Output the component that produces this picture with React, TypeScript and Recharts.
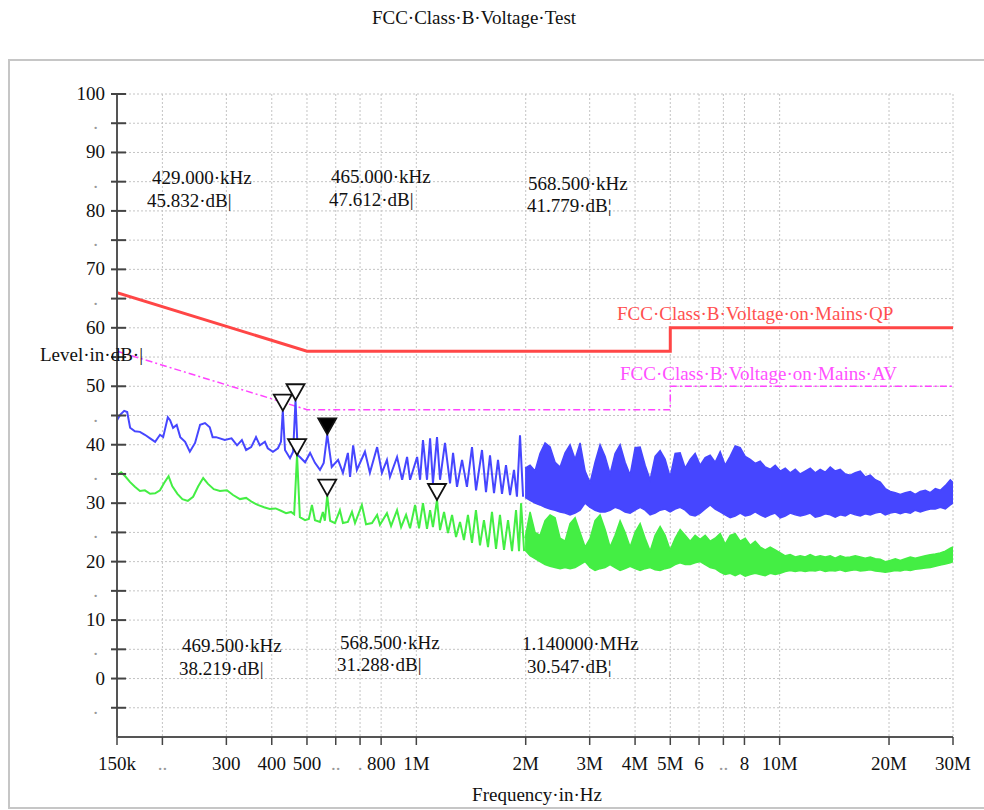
import React from "react";
import {
  ComposedChart,
  Line,
  Area,
  XAxis,
  YAxis,
  CartesianGrid,
  ReferenceDot,
} from "recharts";

const serif = "'Liberation Serif', 'Times New Roman', serif";

const xTicks = [
  150000, 200000, 300000, 400000, 500000, 600000, 700000, 800000, 1000000,
  2000000, 3000000, 4000000, 5000000, 6000000, 7000000, 8000000, 10000000,
  20000000, 30000000,
];
const xTickLabels = [
  "150k", "..", "300", "400", "500", "..", ".", "800", "1M", "2M", "3M", "4M",
  "5M", "6", "..", "8", "10M", "20M", "30M",
];
const yTicks = [
  -10, -5, 0, 5, 10, 15, 20, 25, 30, 35, 40, 45, 50, 55, 60, 65, 70, 75, 80,
  85, 90, 95, 100,
];

// limit lines (Hz, dB)
const limitFreq = [150000, 500000, 5000000, 5000000, 30000000];
const qpLimit = [66, 56, 56, 60, 60];
const avLimit = [56, 46, 46, 50, 50];

// peak trace, 150 kHz .. 2 MHz (kHz, dB)
const blueKHz = [
  150, 153, 157, 160, 163, 168, 173.5, 179, 185, 191, 197, 201, 207, 210, 214,
  219, 224, 231, 238, 246, 254, 262, 270, 275, 281, 297, 310, 321, 331, 340,
  351, 362, 371, 383, 390, 403, 416, 424, 429, 435, 449, 458, 465, 472, 478,
  494, 510, 526, 543, 556, 568.5, 585, 609, 628, 648, 657, 670, 686, 722, 745,
  780, 804, 830, 846, 885, 914, 943, 961, 1005, 1024, 1043, 1070, 1091, 1111,
  1140, 1162, 1199, 1238, 1262, 1294, 1336, 1378, 1423, 1460, 1516, 1555,
  1595, 1636, 1678, 1721, 1765, 1811, 1857, 1892, 1929, 1967,
];
const blueLevel = [
  44.2, 45.1, 45.8, 45.6, 42.9, 42.3, 42.2, 41.7, 41.1, 40.5, 41.7, 41.3, 44.7,
  44.2, 42.9, 43.4, 41.3, 40.5, 38.8, 40.3, 43.4, 43.7, 43.0, 41.3, 41.3, 40.8,
  41.1, 39.9, 40.8, 39.1, 39.6, 41.3, 39.9, 40.5, 39.4, 38.8, 39.4, 40.5,
  45.832, 39.1, 37.7, 38.8, 47.612, 38.2, 37.9, 37.0, 38.6, 36.9, 35.7, 36.9,
  41.779, 36.2, 37.4, 35.2, 38.6, 34.5, 39.9, 35.7, 38.8, 35.2, 39.6, 35.2,
  37.4, 34.5, 37.9, 34.0, 37.9, 34.0, 37.9, 34.0, 40.8, 34.0, 41.1, 33.4, 41.3,
  34.0, 40.3, 33.4, 38.6, 32.8, 37.4, 32.8, 39.6, 32.2, 39.1, 31.9, 38.2, 31.7,
  37.4, 31.6, 36.5, 31.4, 35.7, 31.1, 41.6, 31.1,
];

// average trace, 150 kHz .. 2 MHz (kHz, dB)
const greenKHz = [
  150, 154, 158, 163, 168, 173.5, 179, 185, 191, 197, 202, 208, 213, 220, 227,
  235, 243, 251, 259, 267, 277, 288, 301, 313, 327, 340, 353, 366, 381, 395,
  410, 424, 438, 452, 461, 469.5, 478, 494, 506, 516, 526, 543, 553, 560,
  568.5, 579, 597, 616, 628, 648, 665, 678, 708, 727, 755, 780, 794, 830, 852,
  885, 908, 937, 961, 992, 1017, 1043, 1070, 1091, 1111, 1140, 1162, 1192,
  1222, 1254, 1286, 1319, 1352, 1387, 1423, 1459, 1497, 1535, 1575, 1615,
  1657, 1699, 1743, 1788, 1834, 1881, 1917, 1942, 1980,
];
const greenLevel = [
  34.8, 35.3, 34.6, 33.6, 32.8, 32.1, 32.2, 31.6, 31.7, 32.2, 33.4, 34.6, 32.9,
  31.6, 30.7, 30.4, 31.1, 32.9, 34.3, 33.3, 32.4, 32.1, 32.2, 31.4, 30.7, 30.9,
  30.2, 29.7, 29.3, 29.0, 29.1, 28.7, 28.3, 28.5, 28.1, 38.219, 27.6, 27.1,
  27.3, 29.7, 27.1, 26.8, 28.5, 27.0, 31.288, 27.0, 26.6, 28.8, 26.6, 26.8,
  28.5, 26.6, 29.7, 26.4, 26.6, 28.0, 26.3, 28.3, 26.1, 28.8, 25.9, 28.0, 25.7,
  29.7, 25.7, 30.0, 25.6, 28.8, 25.9, 30.547, 25.4, 28.5, 24.9, 28.0, 24.2,
  26.8, 23.7, 28.0, 23.2, 28.8, 22.8, 27.1, 22.5, 28.5, 22.2, 28.0, 22.0, 27.1,
  21.8, 28.8, 21.8, 30.0, 21.8,
];

// dense sweep 2 MHz .. 30 MHz, min / max per column (MHz, dB)
const bandMHz = [
  1.992, 2.056, 2.122, 2.19, 2.261, 2.334, 2.409, 2.487, 2.567, 2.649, 2.735,
  2.823, 2.914, 3.008, 3.104, 3.204, 3.308, 3.414, 3.524, 3.638, 3.755, 3.876,
  4.001, 4.13, 4.263, 4.4, 4.542, 4.688, 4.839, 4.995, 5.156, 5.322, 5.494,
  5.671, 5.853, 6.042, 6.237, 6.438, 6.645, 6.859, 7.08, 7.308, 7.544, 7.787,
  8.038, 8.297, 8.564, 8.84, 9.125, 9.419, 9.722, 10.04, 10.36, 10.69, 11.04,
  11.39, 11.76, 12.14, 12.53, 12.93, 13.35, 13.78, 14.22, 14.68, 15.16, 15.64,
  16.15, 16.67, 17.2, 17.76, 18.33, 18.92, 19.53, 20.16, 20.81, 21.48, 22.17,
  22.89, 23.62, 24.38, 25.17, 25.98, 26.82, 27.68, 28.57, 29.49, 30.0,
];
const blueHi = [
  36.0, 36.5, 35.5, 38.5, 40.3, 39.6, 37.0, 36.2, 38.6, 40.0, 37.5, 40.3, 35.5,
  33.5, 37.0, 40.0, 38.0, 35.0, 38.5, 40.0, 37.0, 34.8, 39.5, 39.6, 36.5, 34.0,
  38.0, 39.0, 37.5, 34.5, 38.5, 38.6, 36.0, 37.5, 38.5, 36.5, 37.8, 38.2, 37.0,
  38.8, 36.5, 38.0, 39.8, 39.5, 38.0, 37.5, 36.8, 37.2, 36.2, 35.8, 36.5, 35.5,
  36.0, 35.2, 35.8, 35.0, 35.5, 36.0, 35.2, 35.8, 35.3, 36.2, 35.5, 35.8, 35.0,
  34.8, 35.2, 35.5, 34.5, 34.8, 34.0, 33.6, 32.5, 32.0, 31.8, 31.5, 31.8, 32.0,
  31.5, 32.0, 32.2, 31.8, 32.5, 32.2, 33.0, 34.0, 33.5,
];
const blueLo = [
  31.0, 30.5, 30.0, 29.7, 29.3, 29.0, 28.8, 28.5, 28.3, 28.0, 28.3, 28.8, 30.0,
  29.3, 28.8, 28.5, 28.5, 28.8, 29.3, 29.0, 28.5, 28.3, 28.8, 29.3, 28.8, 28.0,
  28.3, 28.8, 29.0, 28.5, 29.0, 29.3, 28.8, 28.0, 27.8, 28.3, 29.0, 29.7, 29.0,
  28.5, 28.0, 27.5, 27.8, 28.3, 27.8, 28.0, 28.5, 28.0, 27.6, 28.0, 28.3, 27.5,
  27.8, 28.3, 28.0, 27.8, 28.0, 28.3, 27.6, 27.8, 28.2, 28.0, 27.6, 28.0, 27.8,
  28.3, 28.0, 27.8, 28.2, 28.0, 28.3, 28.5, 28.0, 28.3, 28.5, 28.2, 28.5, 28.3,
  28.8, 28.5, 28.8, 29.0, 29.0, 29.3, 29.0, 29.7, 30.0,
];
const greenHi = [
  24.0, 28.5, 25.0, 24.5, 27.0, 28.0, 27.5, 24.0, 23.5, 26.5, 27.5, 25.0, 22.5,
  24.0, 27.0, 28.0, 25.5, 22.5, 24.5, 27.0, 25.0, 22.5, 25.0, 26.5, 24.0, 21.8,
  24.5, 26.0, 24.5, 22.0, 24.0, 25.5, 24.5, 23.5, 24.5, 23.8, 24.5, 23.5, 24.0,
  24.8, 23.0, 24.5, 24.8, 23.5, 24.0, 22.8, 23.5, 22.5, 22.0, 22.5, 22.0, 21.5,
  21.0, 21.2, 20.8, 21.0, 20.8, 21.2, 20.8, 21.0, 20.8, 21.0, 20.6, 21.0, 20.7,
  20.8, 21.0, 20.8, 20.6, 20.8, 20.5, 20.4, 20.0, 20.2, 20.5, 20.2, 20.5, 20.8,
  20.6, 20.8, 21.0, 21.2, 21.3, 21.5, 21.8, 22.3, 22.5,
];
const greenLo = [
  22.0, 21.0, 20.5, 20.0, 19.5, 19.2, 19.0, 18.8, 19.0, 18.8, 19.0, 19.5, 20.0,
  19.0, 18.5, 18.8, 19.0, 19.5, 19.0, 18.5, 18.8, 19.2, 18.8, 18.5, 18.8, 19.0,
  18.6, 18.5, 18.8, 19.0, 19.5, 19.8, 19.5, 19.5, 19.8, 20.0, 19.5, 19.0, 18.8,
  18.2, 17.8, 18.0, 17.6, 18.0, 17.5, 17.8, 18.0, 17.8, 17.6, 18.0, 17.8, 18.0,
  18.3, 18.5, 18.3, 18.5, 18.3, 18.5, 18.4, 18.6, 18.3, 18.5, 18.4, 18.6, 18.3,
  18.5, 18.6, 18.4, 18.5, 18.6, 18.4, 18.3, 18.2, 18.3, 18.5, 18.4, 18.6, 18.5,
  18.7, 18.8, 18.9, 19.0, 19.2, 19.4, 19.6, 19.8, 20.0,
];

// markers (kHz, dB)
const markerKHz = [429, 465, 568.5, 469.5, 568.5, 1140];
const markerLevel = [45.832, 47.612, 41.779, 38.219, 31.288, 30.547];
const markerFilled = [false, false, true, false, false, false];
const markerTail = ["|", "|", "¦", "|", "|", "¦"];

// label placement [x1, y1, x2, y2] (page px)
const markerLabelPos = [
  [152, 177, 147, 200],
  [331, 176, 329, 199],
  [528, 183, 527, 205],
  [182, 645, 179, 668],
  [340, 642, 337, 664],
  [522, 643, 527, 666],
];

const BLUE = "#4646ff";
const GREEN = "#44ee44";
const RED = "#ff4646";
const MAGENTA = "#ff44ff";

const fmtFreq = (k: number) =>
  k >= 1000 ? `${(k / 1000).toFixed(6)}·MHz` : `${k.toFixed(3)}·kHz`;

const YTick = (props: any) => {
  const { x, y, payload } = props;
  const v = payload.value;
  if (v === -10) return <g />;
  const major = v % 10 === 0;
  return (
    <g>
      <line x1={x - 6} x2={x + 9} y1={y} y2={y} stroke="#444" strokeWidth={2} />
      {v !== 55 && (
        <text
          x={major ? x - 12 : x - 19}
          y={y}
          dy={6}
          textAnchor="end"
          fontSize={19}
          fontFamily={serif}
          fill={major ? "#111" : "#999"}
        >
          {major ? v : "."}
        </text>
      )}
    </g>
  );
};

const XTick = (props: any) => {
  const { x, y, payload } = props;
  const label = xTickLabels[xTicks.indexOf(payload.value)];
  const dim = label.startsWith(".");
  return (
    <g>
      <line x1={x} x2={x} y1={y} y2={y + 8} stroke="#444" strokeWidth={1.5} />
      <text
        x={x}
        y={y + 33}
        textAnchor="middle"
        fontSize={19}
        fontFamily={serif}
        fill={dim ? "#999" : "#111"}
      >
        {label}
      </text>
    </g>
  );
};

const Triangle = (props: any) => {
  const { cx, cy, filled } = props;
  if (cx == null || cy == null) return <g />;
  return (
    <path
      d={`M${cx},${cy} L${cx - 9},${cy - 16} L${cx + 9},${cy - 16} Z`}
      fill={filled ? "#000" : "#fff"}
      stroke="#111"
      strokeWidth={1.8}
      strokeLinejoin="miter"
    />
  );
};

const textStyle: React.CSSProperties = {
  position: "absolute",
  fontFamily: serif,
  fontSize: 19,
  lineHeight: "23px",
  whiteSpace: "nowrap",
  color: "#111",
};

export default function App() {
  const qpData = limitFreq.map((f, i) => ({ f, v: qpLimit[i] }));
  const avData = limitFreq.map((f, i) => ({ f, v: avLimit[i] }));
  const blueData = blueKHz.map((k, i) => ({ f: k * 1000, v: blueLevel[i] }));
  const greenData = greenKHz.map((k, i) => ({ f: k * 1000, v: greenLevel[i] }));
  const blueBand = bandMHz.map((m, i) => ({ f: m * 1e6, r: [blueLo[i], blueHi[i]] }));
  const greenBand = bandMHz.map((m, i) => ({ f: m * 1e6, r: [greenLo[i], greenHi[i]] }));

  return (
    <div
      style={{
        position: "absolute",
        left: 0,
        top: 0,
        width: 984,
        height: 810,
        overflow: "hidden",
        background: "#fff",
        fontFamily: serif,
      }}
    >
      <div
        style={{
          position: "absolute",
          left: 8,
          top: 59,
          width: 1000,
          height: 746,
          border: "2px solid #c6c6c6",
        }}
      />
      <div style={{ ...textStyle, left: 0, width: 948, top: 6, textAlign: "center" }}>
        FCC·Class·B·Voltage·Test
      </div>

      <div style={{ position: "absolute", left: 0, top: 0 }}>
        <ComposedChart
          width={984}
          height={810}
          margin={{ top: 94, right: 31, bottom: 33, left: 57 }}
        >
          <CartesianGrid stroke="#c4c4c4" strokeDasharray="2 2" />
          <XAxis
            dataKey="f"
            type="number"
            scale="log"
            domain={[150000, 30000000]}
            allowDataOverflow
            ticks={xTicks}
            interval={0}
            height={40}
            tickSize={0}
            tickMargin={0}
            tickLine={false}
            axisLine={{ stroke: "#555", strokeWidth: 2 }}
            tick={<XTick />}
          />
          <YAxis
            type="number"
            domain={[-10, 100]}
            allowDataOverflow
            ticks={yTicks}
            interval={0}
            width={60}
            tickSize={0}
            tickMargin={0}
            tickLine={false}
            axisLine={{ stroke: "#555", strokeWidth: 2 }}
            tick={<YTick />}
          />
          <Line
            data={qpData}
            dataKey="v"
            type="linear"
            stroke={RED}
            strokeWidth={3}
            dot={false}
            activeDot={false}
            isAnimationActive={false}
          />
          <Line
            data={avData}
            dataKey="v"
            type="linear"
            stroke={MAGENTA}
            strokeWidth={1.5}
            strokeDasharray="7 3 2 3"
            dot={false}
            activeDot={false}
            isAnimationActive={false}
          />
          <Area
            data={greenBand}
            dataKey="r"
            type="linear"
            stroke={GREEN}
            strokeWidth={1.5}
            fill={GREEN}
            fillOpacity={1}
            dot={false}
            activeDot={false}
            isAnimationActive={false}
          />
          <Line
            data={greenData}
            dataKey="v"
            type="linear"
            stroke={GREEN}
            strokeWidth={2}
            dot={false}
            activeDot={false}
            isAnimationActive={false}
          />
          <Area
            data={blueBand}
            dataKey="r"
            type="linear"
            stroke={BLUE}
            strokeWidth={1.5}
            fill={BLUE}
            fillOpacity={1}
            dot={false}
            activeDot={false}
            isAnimationActive={false}
          />
          <Line
            data={blueData}
            dataKey="v"
            type="linear"
            stroke={BLUE}
            strokeWidth={2}
            dot={false}
            activeDot={false}
            isAnimationActive={false}
          />
          {markerKHz.map((k, i) => (
            <ReferenceDot
              key={`m-${i}`}
              x={k * 1000}
              y={markerLevel[i]}
              shape={(p: any) => <Triangle {...p} filled={markerFilled[i]} />}
            />
          ))}
        </ComposedChart>
      </div>

      {markerKHz.map((k, i) => {
        const [x1, y1, x2, y2] = markerLabelPos[i];
        return (
          <React.Fragment key={`ml-${i}`}>
            <div style={{ ...textStyle, left: x1, top: y1 - 11.5 }}>{fmtFreq(k)}</div>
            <div style={{ ...textStyle, left: x2, top: y2 - 11.5 }}>
              {`${markerLevel[i].toFixed(3)}·dB${markerTail[i]}`}
            </div>
          </React.Fragment>
        );
      })}

      <div style={{ ...textStyle, left: 617, top: 302, color: "#ff5050" }}>
        FCC·Class·B·Voltage·on·Mains·QP
      </div>
      <div style={{ ...textStyle, left: 620, top: 362, color: "#ff50ff" }}>
        FCC·Class·B·Voltage·on·Mains·AV
      </div>
      <div style={{ ...textStyle, left: 40, top: 343 }}>Level·in·dB·|</div>
      <div style={{ ...textStyle, left: 0, width: 1074, top: 783, textAlign: "center" }}>
        Frequency·in·Hz
      </div>
    </div>
  );
}
